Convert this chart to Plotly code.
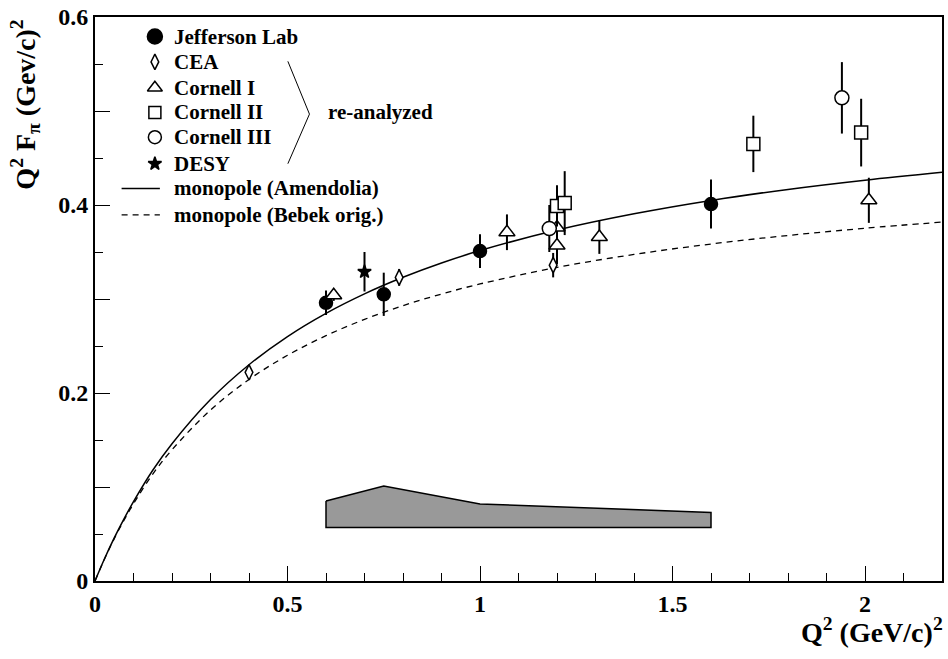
import plotly.graph_objects as go

# ---- data: Q^2 [(GeV/c)^2], Q^2 F_pi [(GeV/c)^2], symmetric errors ----
jlab_q2 = [0.60, 0.75, 1.00, 1.60]
jlab_f = [0.296, 0.305, 0.351, 0.401]
jlab_e = [0.013, 0.023, 0.018, 0.026]

cea_q2 = [0.40, 0.79, 1.19]
cea_f = [0.222, 0.323, 0.336]
cea_e = [0.006, 0.009, 0.013]

cor1_q2 = [0.62, 1.07, 1.20, 1.20, 1.31, 2.01]
cor1_f = [0.304, 0.371, 0.376, 0.357, 0.366, 0.405]
cor1_e = [0.006, 0.019, 0.025, 0.020, 0.018, 0.024]

cor2_q2 = [1.20, 1.22, 1.71, 1.99]
cor2_f = [0.399, 0.402, 0.465, 0.477]
cor2_e = [0.022, 0.034, 0.030, 0.036]

cor3_q2 = [1.18, 1.94]
cor3_f = [0.375, 0.514]
cor3_e = [0.025, 0.038]

desy_q2 = [0.70]
desy_f = [0.329]
desy_e = [0.021]

# monopole curves
curve_q2 = [0.0, 0.025, 0.05, 0.075, 0.1, 0.15, 0.2, 0.3, 0.4, 0.5, 0.6, 0.7,
            0.8, 0.9, 1.0, 1.2, 1.4, 1.6, 1.8, 2.0, 2.2]
amendolia_f = [0.0, 0.0239, 0.0458, 0.0658, 0.0844, 0.1178, 0.1461, 0.1931,
               0.2301, 0.2601, 0.2848, 0.3055, 0.3231, 0.3383, 0.3515, 0.3734,
               0.3907, 0.4049, 0.4166, 0.4264, 0.4348]
bebek_f = [0.0, 0.0237, 0.0451, 0.0644, 0.0822, 0.1137, 0.1396, 0.1819,
           0.2144, 0.2401, 0.2610, 0.2783, 0.2929, 0.3053, 0.3160, 0.3336,
           0.3474, 0.3585, 0.3676, 0.3753, 0.3818]

# systematic error band
band_q2 = [0.60, 0.75, 1.00, 1.60]
band_top = [0.085, 0.101, 0.082, 0.073]
band_base = 0.057

FONT = "Liberation Serif"
BLACK = "#000000"

# marker styles per data set: (label, symbol, size, filled, legend size)
styles = {
    "jlab": ("Jefferson Lab", "circle", 13, True, 15),
    "cea": ("CEA", "diamond-tall", 11, False, 11),
    "cor1": ("Cornell I", "triangle-up", 14, False, 13),
    "cor2": ("Cornell II", "square", 13, False, 12),
    "cor3": ("Cornell III", "circle", 14, False, 13),
    "desy": ("DESY", "star", 10, True, 10),
}
datasets = {
    "jlab": (jlab_q2, jlab_f, jlab_e),
    "cea": (cea_q2, cea_f, cea_e),
    "cor1": (cor1_q2, cor1_f, cor1_e),
    "cor2": (cor2_q2, cor2_f, cor2_e),
    "cor3": (cor3_q2, cor3_f, cor3_e),
    "desy": (desy_q2, desy_f, desy_e),
}

fig = go.Figure()

# band polygon: top edge left to right, then back along the base
poly_x = band_q2 + [band_q2[-1], band_q2[0], band_q2[0]]
poly_y = band_top + [band_base, band_base, band_top[0]]
fig.add_trace(go.Scatter(x=poly_x, y=poly_y, mode="lines", fill="toself",
                         fillcolor="#999999", line=dict(color=BLACK, width=1.5),
                         showlegend=False, hoverinfo="skip"))

fig.add_trace(go.Scatter(x=curve_q2, y=amendolia_f, mode="lines",
                         name="monopole (Amendolia)", line_shape="spline",
                         line=dict(color=BLACK, width=1.5)))
fig.add_trace(go.Scatter(x=curve_q2, y=bebek_f, mode="lines",
                         name="monopole (Bebek orig.)", line_shape="spline",
                         line=dict(color=BLACK, width=1.3, dash="6px,5px")))

for key, (q2, f, e) in datasets.items():
    label, symbol, size, filled, _ = styles[key]
    fig.add_trace(go.Scatter(
        x=q2, y=f, mode="markers", name=label,
        error_y=dict(type="data", array=e, visible=True, color=BLACK,
                     thickness=2, width=0),
        marker=dict(symbol=symbol, size=size,
                    color=BLACK if filled else "white",
                    line=dict(color=BLACK, width=1.5)),
    ))

# ---- hand-built legend on an overlay axis spanning the plot area (0..1) ----
row_y = [0.9654, 0.9204, 0.8747, 0.8308, 0.7868, 0.7399, 0.6960, 0.6490]
glyph_x = 0.0707
line_x = [0.0314, 0.0766]
text_x = 0.0907

legend_keys = ["jlab", "cea", "cor1", "cor2", "cor3", "desy"]
for key, ry in zip(legend_keys, row_y):
    label, symbol, _, filled, lsize = styles[key]
    fig.add_trace(go.Scatter(
        x=[glyph_x], y=[ry], xaxis="x2", yaxis="y2", mode="markers",
        hoverinfo="skip", cliponaxis=False,
        marker=dict(symbol=symbol, size=lsize,
                    color=BLACK if filled else "white",
                    line=dict(color=BLACK, width=1.5))))

fig.add_trace(go.Scatter(x=line_x, y=[row_y[6]] * 2, xaxis="x2", yaxis="y2",
                         mode="lines", hoverinfo="skip",
                         line=dict(color=BLACK, width=1.5)))
fig.add_trace(go.Scatter(x=line_x, y=[row_y[7]] * 2, xaxis="x2", yaxis="y2",
                         mode="lines", hoverinfo="skip",
                         line=dict(color=BLACK, width=1.3, dash="6px,5px")))

legend_labels = [styles[k][0] for k in legend_keys] + [
    "monopole (Amendolia)", "monopole (Bebek orig.)"]
LEG_FONT = dict(family=FONT, size=21, color=BLACK, weight="bold")
annotations = [dict(text=t, xref="paper", yref="paper", x=text_x, y=ry,
                    xanchor="left", yanchor="middle", showarrow=False,
                    font=LEG_FONT)
               for t, ry in zip(legend_labels, row_y)]
annotations += [
    dict(text="re-analyzed", xref="paper", yref="paper", x=0.2729, y=0.8308,
         xanchor="left", yanchor="middle", showarrow=False, font=LEG_FONT),
    dict(text="Q<sup>2</sup> F<sub>π</sub> (Gev/c)<sup>2</sup>",
         xref="paper", yref="paper", x=-0.0824, y=0.845, textangle=-90,
         xanchor="center", yanchor="middle", showarrow=False,
         font=dict(family=FONT, size=28, color=BLACK, weight="bold")),
    dict(text="Q<sup>2</sup> (GeV/c)<sup>2</sup>",
         xref="paper", yref="paper", x=1.0, y=-0.088, xshift=3,
         xanchor="right", yanchor="middle", showarrow=False,
         font=dict(family=FONT, size=28, color=BLACK, weight="bold")),
]

axis_common = dict(
    showline=True, linecolor=BLACK, linewidth=2, mirror=True,
    ticks="inside", tickcolor=BLACK, tickwidth=1.3, ticklen=15,
    showgrid=False, zeroline=False, ticklabeloverflow="allow",
    tickfont=dict(family=FONT, size=24, color=BLACK, weight="bold"),
)

x_main = dict(range=[0, 2.2], tickvals=[0, 0.5, 1, 1.5, 2],
              ticktext=["0", "0.5", "1", "1.5", "2"],
              minor=dict(dtick=0.1, ticklen=8, tickcolor=BLACK, tickwidth=1.3,
                         ticks="inside"),
              **axis_common)
y_main = dict(range=[0, 0.6],
              tickvals=[0, 0.1, 0.2, 0.3, 0.4, 0.5, 0.6],
              ticktext=["0", "", "0.2", "", "0.4", "", "0.6"],
              minor=dict(dtick=0.05, ticklen=8, tickcolor=BLACK, tickwidth=1.3,
                         ticks="inside"),
              **axis_common)

fig.update_layout(
    width=948, height=659,
    margin=dict(l=95, r=4, t=12, b=78),
    plot_bgcolor="white", paper_bgcolor="white",
    font=dict(family=FONT, color=BLACK),
    showlegend=False,
    xaxis=x_main,
    yaxis=y_main,
    xaxis2=dict(overlaying="x", range=[0, 1], visible=False, fixedrange=True),
    yaxis2=dict(overlaying="y", range=[0, 1], visible=False, fixedrange=True),
    shapes=[dict(type="path", xref="paper", yref="paper",
                 path="M 0.2277 0.9214 L 0.2532 0.8278 L 0.2277 0.7399",
                 line=dict(color=BLACK, width=1))],
    annotations=annotations,
)

fig.write_html("out.html")
